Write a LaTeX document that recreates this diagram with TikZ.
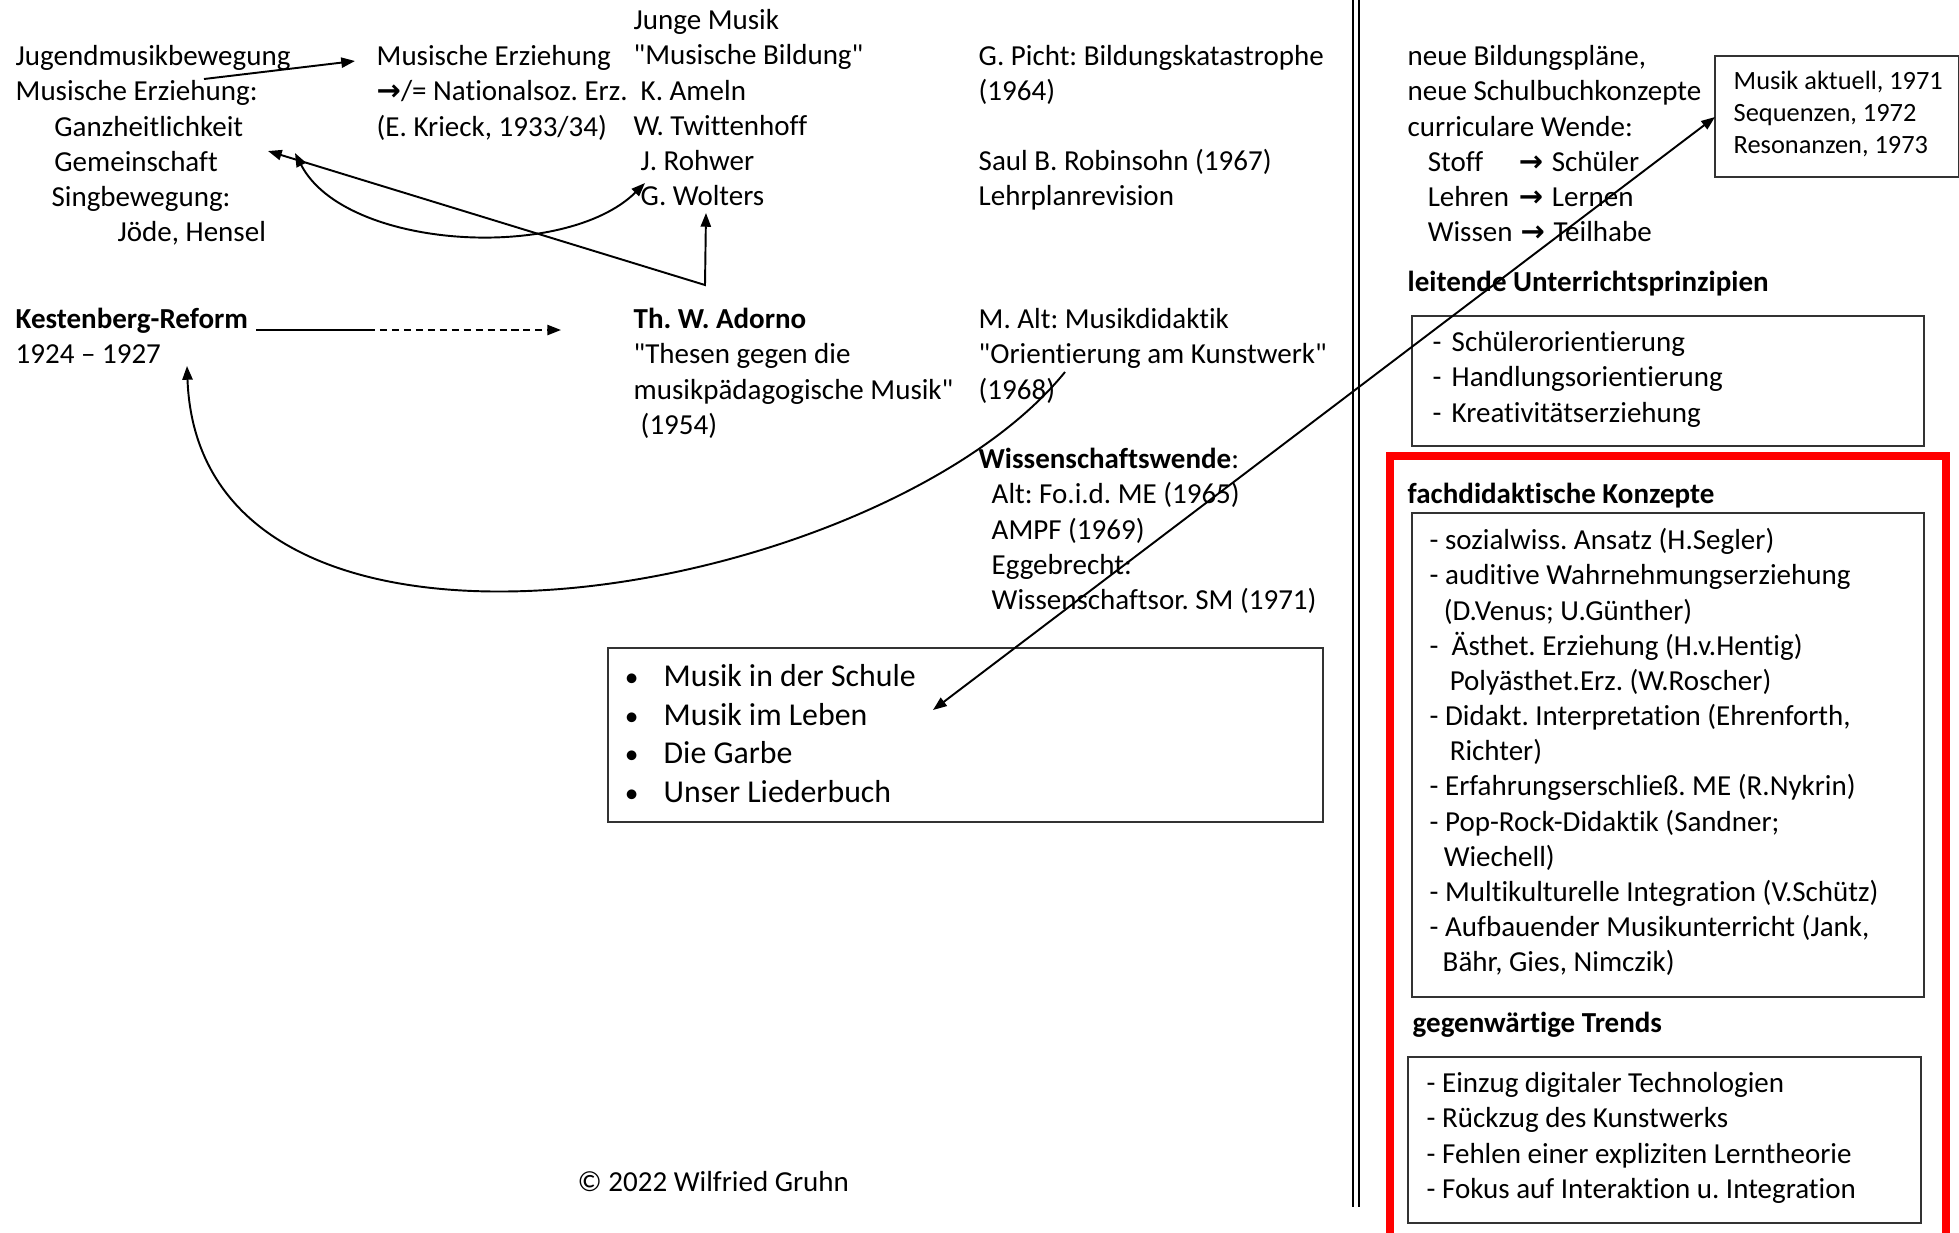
\documentclass[tikz,border=0pt]{standalone}
\usepackage{fontspec}
\setmainfont{Carlito}[Ligatures={TeX,NoCommon}]
\newfontfamily\symfont{DejaVu Sans}
\usetikzlibrary{arrows.meta}

\newcommand{\arr}{{\symfont\bfseries →}}
\newcommand{\q}{\textquotedbl}
\newcommand{\bul}{\makebox[8.8pt][l]{\hspace*{-2.2pt}{\fontsize{7.8}{9}\selectfont •}}}
\newcommand{\mainsize}{\fontsize{8.25}{10}\selectfont}
\newcommand{\listsize}{\fontsize{9.05}{10.95}\selectfont}
\newcommand{\boxsize}{\fontsize{7.5}{9.1}\selectfont}
\frenchspacing

\begin{document}
\begin{tikzpicture}[x=0.01cm, y=-0.01cm,
  txt/.style={anchor=north west, inner sep=0pt, align=left, font=\mainsize, yshift=7pt},
  listtxt/.style={anchor=north west, inner sep=0pt, align=left, font=\listsize, yshift=7.665pt},
  smalltxt/.style={anchor=north west, inner sep=0pt, align=left, font=\boxsize, yshift=6.37pt},
  frame/.style={draw=black!80, line width=0.5pt, anchor=north west, inner sep=0pt},
  arrow/.style={line width=0.55pt, -{Triangle[length=3.9pt,width=2.9pt]}},
  twoway/.style={line width=0.55pt, {Triangle[length=3.9pt,width=2.9pt]}-{Triangle[length=3.9pt,width=2.9pt]}}]
\useasboundingbox (0,0) rectangle (1959,1232);

% Left column
\node[txt] (jugend) at (15,65) {\strut Jugendmusikbewegung\\Musische Erziehung:\\\hspace*{11pt}Ganzheitlichkeit\\\hspace*{11pt}Gemeinschaft\\\hspace*{10.2pt}Singbewegung:\\\hspace*{29pt}Jöde, Hensel};
\node[txt] (musisch) at (376,65) {\strut Musische Erziehung\\\arr/= Nationalsoz. Erz.\\(E. Krieck, 1933/34)};
\node[txt] (junge) at (633,29) {\strut Junge Musik\\\q Musische Bildung\q\\\hspace*{2pt}K. Ameln\\W. Twittenhoff\\\hspace*{2pt}J. Rohwer\\\hspace*{2pt}G. Wolters};
\node[txt] (picht) at (978,65) {\strut G. Picht: Bildungskatastrophe\\(1964)};
\node[txt] (robinsohn) at (978,170) {\strut Saul B. Robinsohn (1967)\\Lehrplanrevision};

% Second row
\node[txt] (kestenberg) at (15,328) {\strut\textbf{Kestenberg-Reform}\\1924 – 1927};
\node[txt] (adorno) at (633,328) {\strut\textbf{Th. W. Adorno}\\\q Thesen gegen die\\musikpädagogische Musik\q\\\hspace*{2pt}(1954)};
\node[txt] (alt) at (978,328) {\strut M. Alt: Musikdidaktik\\\q Orientierung am Kunstwerk\q\\(1968)};
\node[txt] (wende) at (978,468) {\strut\textbf{Wissenschaftswende}:\\\hspace*{3.7pt}Alt: Fo.i.d. ME (1965)\\\hspace*{3.7pt}AMPF (1969)\\\hspace*{3.7pt}Eggebrecht:\\\hspace*{3.7pt}Wissenschaftsor. SM (1971)};

% Schulbuecher
\node[frame, minimum width=7.15cm, minimum height=1.74cm] (bookbox) at (607,647) {};
\node[listtxt] (books) at (632,686) {\strut\bul Musik in der Schule\\\bul Musik im Leben\\\bul Die Garbe\\\bul Unser Liederbuch};

\node[txt] (copyright) at (577,1191) {\strut © 2022 Wilfried Gruhn};

% Divider
\draw[line width=0.6pt] (1353,0) -- (1353,1207);
\draw[line width=0.6pt] (1359,0) -- (1359,1207);

% Right column
\node[txt] (plaene) at (1407,65) {\strut neue Bildungspläne,\\neue Schulbuchkonzepte\\curriculare Wende:\\\hspace*{5.7pt}\makebox[25.9pt][l]{Stoff}\makebox[9.4pt][l]{\arr}Schüler\\\hspace*{5.7pt}\makebox[25.9pt][l]{Lehren}\makebox[9.4pt][l]{\arr}Lernen\\\hspace*{5.7pt}\makebox[26.4pt][l]{Wissen}\makebox[9.4pt][l]{\arr}Teilhabe};
\node[frame, minimum width=2.44cm, minimum height=1.21cm] (aktbox) at (1714,55) {};
\node[smalltxt] (aktuell) at (1733,89) {\strut Musik aktuell, 1971\\Sequenzen, 1972\\Resonanzen, 1973};

\node[txt, font=\mainsize\bfseries] (leitende) at (1407,291) {\strut leitende Unterrichtsprinzipien};
\node[frame, minimum width=5.12cm, minimum height=1.30cm] (leitbox) at (1411,315) {};
\node[txt] (prinzipien) at (1432,351) {\strut\makebox[5.4pt][l]{-}Schülerorientierung\\\makebox[5.4pt][l]{-}Handlungsorientierung\\\makebox[5.4pt][l]{-}Kreativitätserziehung};

% Red frame
\draw[red, line width=2pt] (1390,1240) -- (1390,456) -- (1946,456) -- (1946,1240);

\node[txt, font=\mainsize\bfseries] (fach) at (1407,503) {\strut fachdidaktische Konzepte};
\node[frame, minimum width=5.12cm, minimum height=4.84cm] (fachbox) at (1411,512) {};
\node[txt] (konzepte) at (1429,549) {\strut - sozialwiss. Ansatz (H.Segler)\\- auditive Wahrnehmungserziehung\\\hspace*{4pt}(D.Venus; U.Günther)\\-\ \ Ästhet. Erziehung (H.v.Hentig)\\\hspace*{5.7pt}Polyästhet.Erz. (W.Roscher)\\- Didakt. Interpretation (Ehrenforth,\\\hspace*{5.7pt}Richter)\\- Erfahrungserschließ. ME (R.Nykrin)\\- Pop-Rock-Didaktik (Sandner;\\\hspace*{4pt}Wiechell)\\- Multikulturelle Integration (V.Schütz)\\- Aufbauender Musikunterricht (Jank,\\\hspace*{3.7pt}Bähr, Gies, Nimczik)};

\node[txt, font=\mainsize\bfseries] (trends) at (1412,1032) {\strut gegenwärtige Trends};
\node[frame, minimum width=5.13cm, minimum height=1.66cm] (trendbox) at (1407,1056) {};
\node[txt] (trendlist) at (1426,1092) {\strut - Einzug digitaler Technologien\\- Rückzug des Kunstwerks\\- Fehlen einer expliziten Lerntheorie\\- Fokus auf Interaktion u. Integration};

% Connectors
\coordinate (jm-out) at (204,79);
\coordinate (me-in) at (355,61);
\draw[arrow] (jm-out) -- (me-in);

\coordinate (ks-a) at (256,330);
\coordinate (ks-b) at (368,330);
\coordinate (ks-c) at (561,330);
\draw[line width=0.55pt] (ks-a) -- (ks-b);
\draw[arrow, dash pattern=on 2pt off 1.4pt] (ks-b) -- (ks-c);

\coordinate (ad-v) at (705,285);
\coordinate (gem-a) at (268,151);
\coordinate (wol-a) at (706,213);
\draw[twoway] (gem-a) -- (ad-v) -- (wol-a);

\coordinate (gem-b) at (295,153);
\coordinate (wol-b) at (645,183);
\draw[twoway] (gem-b) .. controls (345,250) and (565,262) .. (wol-b);

\coordinate (alt-out) at (1065,372);
\coordinate (ks-in) at (187,366);
\draw[arrow] (alt-out) .. controls (880,600) and (200,720) .. (ks-in);

\coordinate (books-a) at (933,710);
\coordinate (akt-a) at (1715,117);
\draw[twoway] (books-a) -- (akt-a);
\end{tikzpicture}
\end{document}
